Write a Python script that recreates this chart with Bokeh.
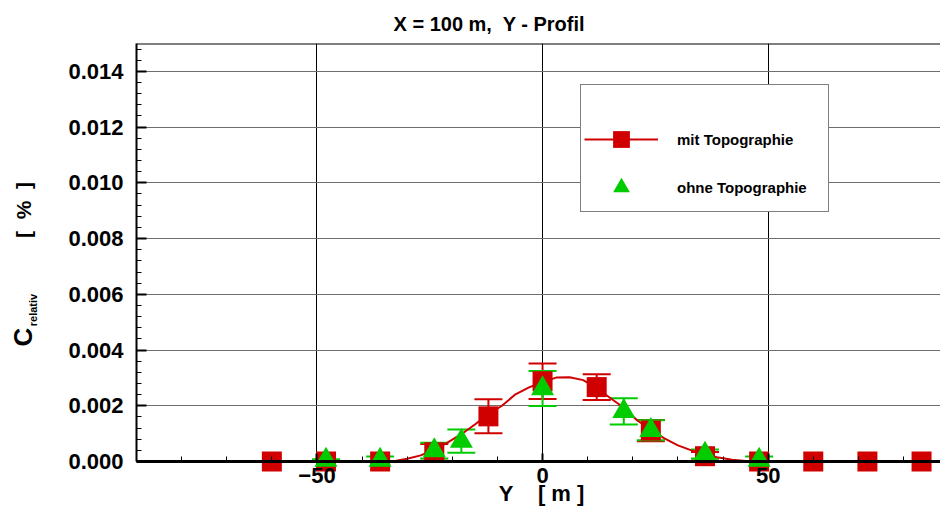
from bokeh.plotting import figure
from bokeh.layouts import row
from bokeh.models import (ColumnDataSource, Whisker, TeeHead, FixedTicker, Legend,
                          LegendItem, Span, PrintfTickFormatter, Range1d, Div)
from bokeh.embed import file_html
from bokeh.resources import INLINE

# ---------------- data ----------------
# mit Topographie (red squares)
y_mit = [-60, -48, -36, -24, -12, 0, 12, 24, 36, 48, 60, 72, 84]
c_mit = [0.0, 0.0, 0.0, 0.00033, 0.00162, 0.00288, 0.00267, 0.00111, 0.00019, 0.0, 0.0, 0.0, 0.0]
err_mit = [0.0, 0.0, 0.0, 0.00030, 0.00061, 0.00064, 0.00046, 0.00038, 0.00015, 0.0, 0.0, 0.0, 0.0]

# ohne Topographie (green triangles)
y_ohne = [-48, -36, -24, -18, 0, 18, 24, 36, 48]
c_ohne = [0.00005, 0.00005, 0.00039, 0.00073, 0.00262, 0.00180, 0.00112, 0.00027, 0.00005]
err_ohne = [0.00003, 0.00013, 0.00028, 0.00042, 0.00063, 0.00047, 0.00036, 0.00016, 0.00013]

# smooth curve through the red series
curve_y = [-60, -48, -36, -33, -30, -27, -24, -21, -18, -15, -12, -9, -6, -3, 0, 3, 6, 9,
           12, 15, 18, 21, 24, 27, 30, 33, 36, 39, 42, 45, 48, 60, 72, 84]
curve_c = [0.0, 0.0, 0.0, 0.00001, 0.00010, 0.00022, 0.00042, 0.00069, 0.00098, 0.00133,
           0.00170, 0.00200, 0.00241, 0.00266, 0.00285, 0.00301, 0.00302, 0.00292, 0.00264,
           0.00228, 0.00193, 0.00147, 0.00114, 0.00083, 0.00058, 0.00040, 0.00027, 0.00014,
           0.00006, 0.00002, 0.0, 0.0, 0.0, 0.0]

x_major_ticks = [-50, 0, 50]
x_minor_ticks = [-90, -80, -70, -60, -40, -30, -20, -10, 10, 20, 30, 40, 60, 70, 80, 90]
y_major_ticks = [0.0, 0.002, 0.004, 0.006, 0.008, 0.010, 0.012, 0.014]

NB = "\u00a0"
title_text = "X = 100 m," + NB + " Y - Profil"
xlabel_text = NB + "Y" + NB * 3 + " [ m ]"
series_names = ["mit Topographie", "ohne Topographie"]

RED = "#d00000"
GREEN = "#00cc00"
FONT = "Liberation Sans"

# ---------------- figure ----------------
p = figure(width=892, height=511, x_range=Range1d(-90, 88.2), y_range=Range1d(0, 0.015),
           output_backend="svg", toolbar_location=None,
           min_border_left=88, min_border_right=0, min_border_top=43, min_border_bottom=50)
p.outline_line_color = None
p.background_fill_color = "white"
p.border_fill_color = "white"

# title
p.title.text = title_text
p.title.align = "left"
p.title.offset = 257
p.title.standoff = 18
p.title.text_font = FONT
p.title.text_font_style = "bold"
p.title.text_font_size = "20px"
p.title.text_color = "black"

# axes
y_minor = [i * 0.0004 for i in range(0, 38)]
p.xaxis.ticker = FixedTicker(ticks=x_major_ticks, minor_ticks=x_minor_ticks)
p.yaxis.ticker = FixedTicker(ticks=y_major_ticks, minor_ticks=y_minor)
p.yaxis.formatter = PrintfTickFormatter(format="%.3f")

for ax in (p.xaxis[0], p.yaxis[0]):
    ax.major_label_text_font = FONT
    ax.major_label_text_font_style = "bold"
    ax.major_label_text_font_size = "22px"
    ax.major_label_text_color = "black"
    ax.axis_line_color = "black"
    ax.major_tick_line_color = "black"
    ax.minor_tick_line_color = "black"
    ax.major_tick_out = 0
    ax.minor_tick_out = 0
    ax.minor_tick_in = 5

p.xaxis.axis_label = xlabel_text
p.xaxis.axis_label_text_font = FONT
p.xaxis.axis_label_text_font_style = "bold"
p.xaxis.axis_label_text_font_size = "22px"
p.xaxis.axis_label_text_color = "black"
p.xaxis.axis_label_standoff = -5

p.xaxis.axis_line_width = 3
p.yaxis.axis_line_width = 2
p.xaxis.major_tick_in = 8
p.yaxis.major_tick_in = 10
p.xaxis.major_tick_line_width = 2
p.yaxis.major_tick_line_width = 2
p.xaxis.major_label_standoff = 6
p.yaxis.major_label_standoff = 13

# grid
p.xgrid.ticker = FixedTicker(ticks=x_major_ticks)
p.ygrid.ticker = FixedTicker(ticks=y_major_ticks)
p.xgrid.grid_line_color = "black"
p.xgrid.grid_line_width = 1
p.ygrid.grid_line_color = "#6e6e6e"
p.ygrid.grid_line_width = 1

# top border
p.add_layout(Span(location=0.015, dimension="width", line_color="black", line_width=2))

# ---------------- data glyphs ----------------
src_curve = ColumnDataSource(dict(y=curve_y, c=curve_c))
src_mit = ColumnDataSource(dict(y=y_mit, c=c_mit))
src_ohne = ColumnDataSource(dict(y=y_ohne, c=c_ohne))

mit_err_idx = [i for i, e in enumerate(err_mit) if e > 0]
src_mit_err = ColumnDataSource(dict(
    y=[y_mit[i] for i in mit_err_idx],
    lo=[c_mit[i] - err_mit[i] for i in mit_err_idx],
    hi=[c_mit[i] + err_mit[i] for i in mit_err_idx]))
src_ohne_err = ColumnDataSource(dict(
    y=y_ohne,
    lo=[c - e for c, e in zip(c_ohne, err_ohne)],
    hi=[c + e for c, e in zip(c_ohne, err_ohne)]))

r_line = p.line("y", "c", source=src_curve, line_color=RED, line_width=2)
r_sq = p.scatter("y", "c", source=src_mit, marker="square", size=20,
                 fill_color=RED, line_color=None, level="guide")

w_mit = Whisker(base="y", lower="lo", upper="hi", source=src_mit_err, dimension="height",
                line_color=RED, line_width=2,
                upper_head=TeeHead(size=28, line_color=RED, line_width=2),
                lower_head=TeeHead(size=28, line_color=RED, line_width=2))
p.add_layout(w_mit)

r_tri = p.scatter("y", "c", source=src_ohne, marker="triangle", size=23,
                  fill_color=GREEN, line_color=None, level="guide")

w_ohne = Whisker(base="y", lower="lo", upper="hi", source=src_ohne_err, dimension="height",
                 line_color=GREEN, line_width=2,
                 upper_head=TeeHead(size=28, line_color=GREEN, line_width=2),
                 lower_head=TeeHead(size=28, line_color=GREEN, line_width=2))
p.add_layout(w_ohne)

# ---------------- legend ----------------
legend = Legend(items=[LegendItem(label=series_names[0], renderers=[r_line, r_sq]),
                       LegendItem(label=series_names[1], renderers=[r_tri])],
                location=(444, 249), orientation="vertical",
                title=" ", title_text_font_size="14px", title_standoff=14,
                padding=3, spacing=6, margin=0,
                glyph_width=74, glyph_height=42, label_height=42,
                label_standoff=19, label_width=148,
                label_text_font=FONT, label_text_font_style="bold",
                label_text_font_size="15px", label_text_color="black",
                border_line_color="black", border_line_width=1.5,
                background_fill_color="white", background_fill_alpha=1.0)
p.add_layout(legend, "center")

# ---------------- y-axis label (C_relativ [ % ]) ----------------
ylabel_html = (
    "<div style=\"position:relative;width:48px;height:511px;"
    "font-family:'Liberation Sans',Arial,sans-serif;font-weight:bold;color:#000;\">"
    "<div style=\"position:absolute;left:23px;top:337px;transform:translate(-50%,-50%) rotate(-90deg);"
    "font-size:26px;line-height:1;white-space:nowrap;\">C</div>"
    "<div style=\"position:absolute;left:33px;top:310px;transform:translate(-50%,-50%) rotate(-90deg);"
    "font-size:11px;line-height:1;white-space:nowrap;\">relativ</div>"
    "<div style=\"position:absolute;left:23px;top:210px;transform:translate(-50%,-50%) rotate(-90deg);"
    "font-size:21px;line-height:1;white-space:pre;\">[  %  ]</div>"
    "</div>"
)
ylabel = Div(text=ylabel_html, width=48, height=511, margin=0)

layout = row(ylabel, p, spacing=0)

open("out.html", "w").write(file_html(layout, INLINE))
